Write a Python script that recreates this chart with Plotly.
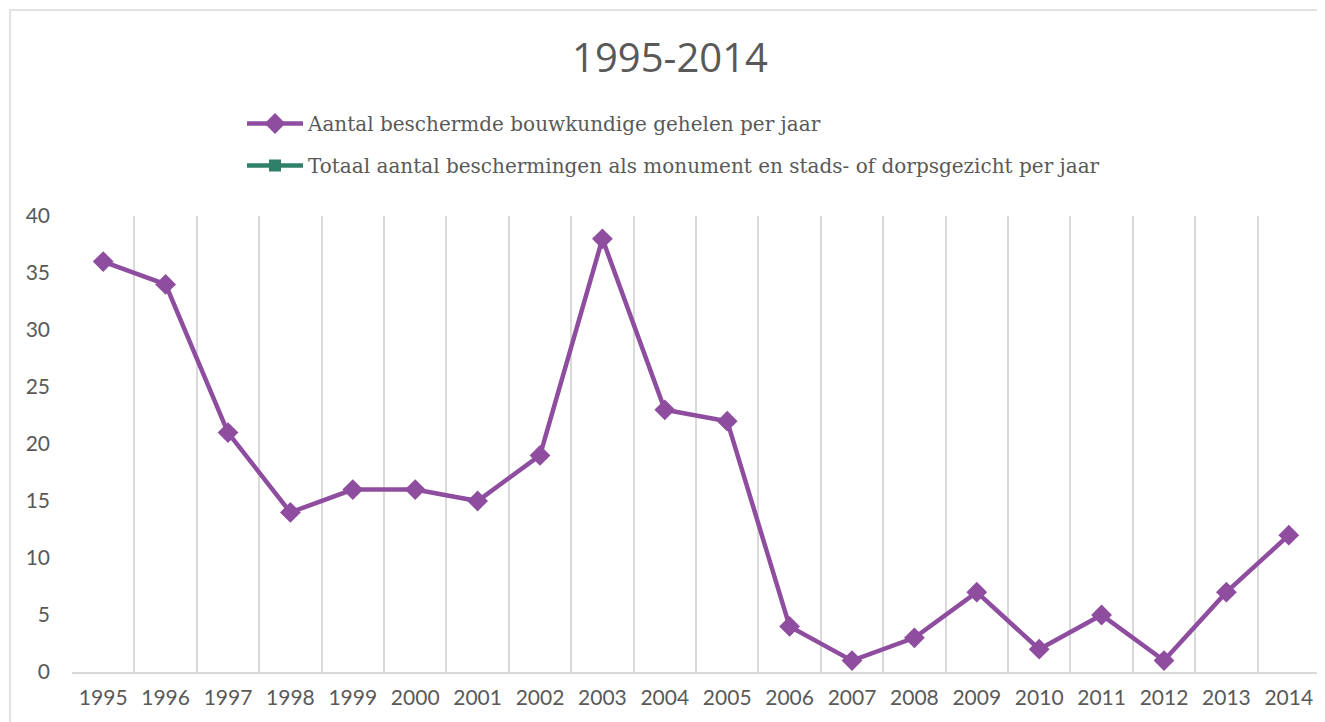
import plotly.graph_objects as go

years = [str(y) for y in range(1995, 2015)]
gehelen = [36, 34, 21, 14, 16, 16, 15, 19, 38, 23, 22, 4, 1, 3, 7, 2, 5, 1, 7, 12]
# second series is in the legend but has no visible values in the chart
totaal = [None] * len(years)

purple = "#8e4d9f"
green = "#2f8068"
text_gray = "#595959"
grid_gray = "#d9d9d9"

# page body has an 8px margin, so work in screen pixels minus that offset
OFF = 8
W, H = 1325 - OFF, 722 - OFF
left, right, top, bottom = 72 - OFF, 1320 - OFF, 216 - OFF, 672 - OFF
pw, ph = right - left, bottom - top


def px_x(sx):
    return (sx - OFF - left) / pw


def px_y(sy):
    return (bottom - (sy - OFF)) / ph


fig = go.Figure()
fig.add_trace(go.Scatter(
    x=years, y=gehelen, mode="lines+markers",
    name="Aantal beschermde bouwkundige gehelen per jaar",
    legendgroup="a",
    line={"color": purple, "width": 4.5},
    marker={"symbol": "diamond", "size": 16, "color": purple},
))
fig.add_trace(go.Scatter(
    x=years, y=totaal, mode="lines+markers",
    name="Totaal aantal beschermingen als monument en stads- of dorpsgezicht per jaar",
    legendgroup="b",
    line={"color": green, "width": 4.5},
    marker={"symbol": "square", "size": 12, "color": green},
))

# light frame around the whole chart
fig.add_shape(
    type="rect", xref="paper", yref="paper",
    x0=px_x(10), x1=px_x(1340), y0=px_y(740), y1=px_y(10),
    line={"color": grid_gray, "width": 1.5}, fillcolor="rgba(0,0,0,0)", layer="below",
)

fig.update_layout(
    width=W, height=H,
    margin={"l": left, "r": W - right, "t": top, "b": H - bottom},
    paper_bgcolor="white", plot_bgcolor="white",
    title={
        "text": "1995-2014", "x": (670 - OFF) / W, "xref": "container", "xanchor": "center",
        "y": 1 - (58 - OFF) / H, "yanchor": "middle",
        "font": {"family": "Open Sans", "size": 40, "color": text_gray},
    },
    legend={
        "x": px_x(242), "xanchor": "left",
        "y": px_y(104), "yanchor": "top",
        "font": {"family": "DejaVu Serif", "size": 20, "color": text_gray},
        "tracegroupgap": 13, "itemwidth": 56,
        "bgcolor": "rgba(0,0,0,0)",
    },
    showlegend=True,
    xaxis={
        "type": "category", "range": [-0.5, 19.5],
        "tickson": "boundaries", "showgrid": True, "gridcolor": grid_gray, "gridwidth": 2,
        "showline": True, "linecolor": grid_gray, "linewidth": 2,
        "ticks": "", "ticklabelstandoff": 6,
        "tickfont": {"family": "Lato", "size": 21, "color": text_gray},
        "fixedrange": True,
    },
    yaxis={
        "range": [0, 40], "dtick": 5, "showgrid": False, "zeroline": False,
        "showline": False, "ticks": "", "ticklabelstandoff": 21,
        "tickfont": {"family": "Lato", "size": 21, "color": text_gray},
        "fixedrange": True,
    },
)

fig.write_html("out.html")
